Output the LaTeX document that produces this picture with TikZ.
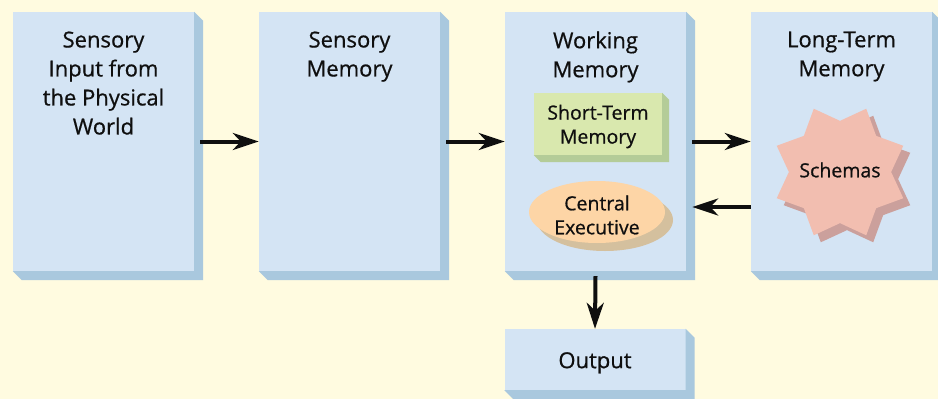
\documentclass[tikz,border=0pt]{standalone}
\usepackage{fontspec}
\setmainfont{Open Sans}[FakeBold=0.7]
\usetikzlibrary{shapes.geometric,arrows.meta,calc}

\definecolor{bgcream}{RGB}{255,251,224}
\definecolor{boxface}{RGB}{212,228,244}
\definecolor{boxside}{RGB}{169,200,222}
\definecolor{stmface}{RGB}{217,232,174}
\definecolor{stmside}{RGB}{180,204,152}
\definecolor{ceface}{RGB}{253,213,166}
\definecolor{ceside}{RGB}{212,192,158}
\definecolor{starface}{RGB}{242,190,176}
\definecolor{starside}{RGB}{203,160,156}
\definecolor{ink}{RGB}{15,15,15}

\tikzset{
  stage/.style={fill=boxface, draw=none, inner sep=0pt,
    minimum width=181pt, minimum height=259pt},
  outbox/.style={fill=boxface, draw=none, inner sep=0pt,
    minimum width=181pt, minimum height=61pt, text=ink},
  title/.style={anchor=north, inner sep=0pt, align=center, text=ink,
    font=\fontsize{22}{29}\selectfont},
  stmbox/.style={fill=stmface, draw=none, inner sep=0pt,
    minimum width=128pt, minimum height=62pt, text=ink},
  cebox/.style={ellipse, fill=ceface, draw=none, inner sep=0pt,
    minimum width=136pt, minimum height=62pt},
  inner/.style={inner sep=0pt, align=center, text=ink,
    font=\fontsize{19.5}{24}\selectfont},
  schema/.style={star, star points=8, star point ratio=1.34,
    shape border rotate=22.5, inner sep=0pt, minimum size=137pt,
    draw=none},
  arr/.style={line width=4pt, draw=ink,
    -{Stealth[length=26pt, width=17pt, inset=8pt]}},
}

% extruded side faces below and to the right of a box node
\newcommand{\sidefaces}[3]{%
  \fill[#3] (#1.north east) -- ++(#2,#2) -- ($(#1.south east)+(#2,#2)$)
    -- ($(#1.south west)+(#2,#2)$) -- (#1.south west) -- (#1.south east) -- cycle;}

\begin{document}
\begin{tikzpicture}[x=1pt, y=-1pt]
  \fill[bgcream] (0,0) rectangle (938,399);
  \useasboundingbox (0,0) rectangle (938,399);

  % the four stages
  \node[stage] (sens) at (103.5,141.5) {};
  \node[stage] (sm)   at (349.5,141.5) {};
  \node[stage] (wm)   at (595.5,141.5) {};
  \node[stage] (ltm)  at (841.5,141.5) {};
  \sidefaces{sens}{9}{boxside}
  \sidefaces{sm}{9}{boxside}
  \sidefaces{wm}{9}{boxside}
  \sidefaces{ltm}{9}{boxside}

  \node[title] (sens-t) at ($(sens.north)+(0,19.5)$) {Sensory\\Input from\\the Physical\\World};
  \node[title] (sm-t)   at ($(sm.north)+(0,19.5)$) {Sensory\\Memory};
  \node[title] (wm-t)   at ($(wm.north)+(0,19.5)$) {Working\\Memory};
  \node[title] (ltm-t)  at ($(ltm.north)+(0,19.5)$) {Long-Term\\Memory};

  % output
  \node[outbox] (out) at (595,359.5) {};
  \sidefaces{out}{9}{boxside}
  \node[title] (out-t) at ($(out.center)+(0,-7.5)$) {Output};

  % components of working memory
  \node[stmbox] (stm) at (598,124) {};
  \sidefaces{stm}{7}{stmside}
  \node[inner] (stm-t) at ($(stm)+(0,2.5)$) {Short-Term\\Memory};

  \fill[ceside] (605,220) ellipse [x radius=68, y radius=31];
  \node[cebox] (ce) at (597,212) {};
  \node[inner] (ce-t) at ($(ce)+(0,3)$) {Central\\Executive};

  % schemas in long-term memory
  \node[schema, fill=starside] (schema-s) at (847,179) {};
  \node[schema, fill=starface] (schema) at (840,172) {};
  \node[inner] (schema-t) at ($(schema)+(0,-2)$) {Schemas};

  % flow of information
  \draw[arr] ([xshift=6pt]sens.east) -- (sm.west);
  \draw[arr] ([xshift=6pt]sm.east) -- (wm.west);
  \draw[arr] ([xshift=6pt]wm.east) -- (ltm.west);
  \draw[arr] ([yshift=-65.5pt]ltm.west) -- ([xshift=6pt, yshift=-65.5pt]wm.east);
  \draw[arr] ([yshift=-5pt]wm.south) -- (out.north);
\end{tikzpicture}
\end{document}
